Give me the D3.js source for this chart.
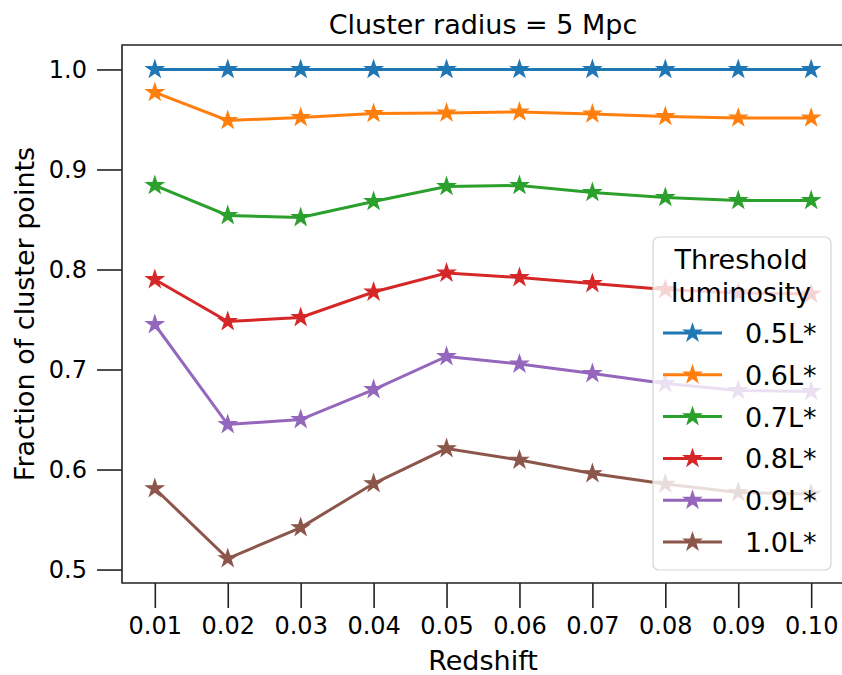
<!DOCTYPE html>
<html>
<head>
<meta charset="utf-8">
<script src="https://cdn.jsdelivr.net/npm/d3@7/dist/d3.min.js"></script>
<style>
	body { margin: 0; background: #fff; }
	svg text { font-family: "DejaVu Sans", sans-serif; fill: #000; }
</style>
</head>
<body>
<svg id="chart" width="842" height="675"></svg>
<script>
// redshift values on the x axis
var redshifts = [0.01, 0.02, 0.03, 0.04, 0.05, 0.06, 0.07, 0.08, 0.09, 0.10];
var x_tick_labels = ["0.01", "0.02", "0.03", "0.04", "0.05", "0.06", "0.07", "0.08", "0.09", "0.10"];
var y_ticks = [0.5, 0.6, 0.7, 0.8, 0.9, 1.0];

// fraction of cluster points for each threshold luminosity
var series_names = ["0.5L*", "0.6L*", "0.7L*", "0.8L*", "0.9L*", "1.0L*"];
var frac_05 = [1.0, 1.0, 1.0, 1.0, 1.0, 1.0, 1.0, 1.0, 1.0, 1.0];
var frac_06 = [0.977, 0.949, 0.952, 0.956, 0.9565, 0.9575, 0.9555, 0.953, 0.9515, 0.9515];
var frac_07 = [0.884, 0.854, 0.852, 0.868, 0.883, 0.884, 0.877, 0.872, 0.869, 0.869];
var frac_08 = [0.790, 0.748, 0.752, 0.7775, 0.7965, 0.792, 0.786, 0.780, 0.7765, 0.7755];
var frac_09 = [0.745, 0.645, 0.650, 0.680, 0.713, 0.7055, 0.696, 0.686, 0.679, 0.678];
var frac_10 = [0.581, 0.511, 0.542, 0.586, 0.621, 0.6095, 0.596, 0.5855, 0.577, 0.5755];

var colours = ["#1f77b4", "#ff7f0e", "#2ca02c", "#d62728", "#9467bd", "#8c564b"];

var all_series = [frac_05, frac_06, frac_07, frac_08, frac_09, frac_10];

var plot = {left: 122, right: 844, top: 45, bottom: 583};
var tick_len = 25;

var svg = d3.select("svg#chart");

// matplotlib style 5% margins round the data
var x_ext = d3.extent(redshifts);
var x_pad = (x_ext[1] - x_ext[0]) * 0.05;
var all_vals = d3.merge(all_series);
var y_ext = d3.extent(all_vals);
var y_pad = (y_ext[1] - y_ext[0]) * 0.05;

var x = d3.scaleLinear()
	.domain([x_ext[0] - x_pad, x_ext[1] + x_pad])
	.range([plot.left, plot.right]);

var y = d3.scaleLinear()
	.domain([y_ext[0] - y_pad, y_ext[1] + y_pad])
	.range([plot.bottom, plot.top]);

// ====================================================
// axes
var gx = svg.append("g")
	.attr("transform", "translate(0," + plot.bottom + ")")
	.call(d3.axisBottom(x)
		.tickValues(redshifts)
		.tickSize(tick_len)
		.tickPadding(9)
		.tickFormat(function(d, i) { return x_tick_labels[i]; }));

var gy = svg.append("g")
	.attr("transform", "translate(" + plot.left + ",0)")
	.call(d3.axisLeft(y)
		.tickValues(y_ticks)
		.tickSize(tick_len)
		.tickPadding(10)
		.tickFormat(d3.format(".1f")));

[gx, gy].forEach(function(g) {
	g.select(".domain").remove();
	g.selectAll(".tick line").attr("stroke", "#222").attr("stroke-width", 1.6);
	g.selectAll(".tick text").attr("font-size", 24).attr("font-family", "DejaVu Sans");
});

// spines: left, bottom, top
svg.append("path")
	.attr("d", "M" + plot.right + "," + plot.top + "H" + plot.left + "V" + plot.bottom + "H" + plot.right)
	.attr("fill", "none")
	.attr("stroke", "#222")
	.attr("stroke-width", 1.6);

// ====================================================
// lines + star markers
var line = d3.line()
	.x(function(d, i) { return x(redshifts[i]); })
	.y(function(d) { return y(d); });

var star = d3.symbol().type(d3.symbolStar).size(92);

var g_lines = svg.append("g");

all_series.forEach(function(vals, s) {
	g_lines.append("path")
		.datum(vals)
		.attr("d", line)
		.attr("fill", "none")
		.attr("stroke", colours[s])
		.attr("stroke-width", 3);

	g_lines.selectAll(".mk" + s)
		.data(vals)
		.enter().append("path")
		.attr("transform", function(d, i) { return "translate(" + x(redshifts[i]) + "," + y(d) + ")"; })
		.attr("d", star)
		.attr("fill", colours[s])
		.attr("stroke", colours[s])
		.attr("stroke-width", 1.2);
});

// ====================================================
// titles
svg.append("text")
	.attr("x", (plot.left + plot.right) / 2)
	.attr("y", 34)
	.attr("text-anchor", "middle")
	.attr("font-size", 27)
	.text("Cluster radius = 5 Mpc");

svg.append("text")
	.attr("x", (plot.left + plot.right) / 2)
	.attr("y", 670)
	.attr("text-anchor", "middle")
	.attr("font-size", 27)
	.text("Redshift");

svg.append("text")
	.attr("transform", "translate(34," + ((plot.top + plot.bottom) / 2) + ") rotate(-90)")
	.attr("text-anchor", "middle")
	.attr("font-size", 27)
	.text("Fraction of cluster points");

// ====================================================
// legend
var legend = {x: 653, y: 237, w: 178, h: 333, row0: 333, row_h: 41.8};

var g_leg = svg.append("g");

g_leg.append("rect")
	.attr("x", legend.x)
	.attr("y", legend.y)
	.attr("width", legend.w)
	.attr("height", legend.h)
	.attr("rx", 6)
	.attr("fill", "#fff")
	.attr("fill-opacity", 0.8)
	.attr("stroke", "#d6d6d6")
	.attr("stroke-width", 1.2);

g_leg.selectAll(".title")
	.data(["Threshold", "luminosity"])
	.enter().append("text")
	.attr("x", legend.x + legend.w / 2 - 1)
	.attr("y", function(d, i) { return 269 + i * 33; })
	.attr("text-anchor", "middle")
	.attr("font-size", 27)
	.text(function(d) { return d; });

var rows = g_leg.selectAll(".row")
	.data(series_names)
	.enter().append("g")
	.attr("transform", function(d, i) { return "translate(0," + (legend.row0 + i * legend.row_h) + ")"; });

rows.append("line")
	.attr("x1", 663).attr("x2", 722)
	.attr("stroke", function(d, i) { return colours[i]; })
	.attr("stroke-width", 3);

rows.append("path")
	.attr("transform", "translate(692.5,0)")
	.attr("d", star)
	.attr("fill", function(d, i) { return colours[i]; })
	.attr("stroke", function(d, i) { return colours[i]; })
	.attr("stroke-width", 1.2);

rows.append("text")
	.attr("x", 745)
	.attr("y", 10)
	.attr("font-size", 27)
	.text(function(d) { return d; });
</script>
</body>
</html>
